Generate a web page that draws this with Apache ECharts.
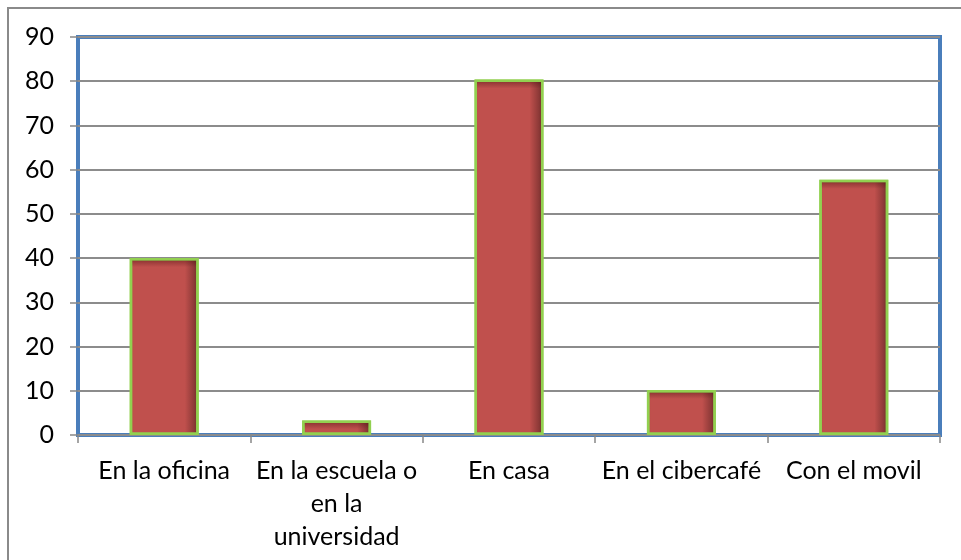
<!DOCTYPE html>
<html>
<head>
<meta charset="utf-8">
<title>Lugar de acceso</title>
<script src="https://cdn.jsdelivr.net/npm/echarts@6/dist/echarts.min.js"></script>
<style>
  html, body { margin: 0; padding: 0; background: #fff; }
  #chart { width: 961px; height: 560px; }
</style>
</head>
<body>
<div id="chart"></div>
<script>
// datos
const categories = ['En la oficina', 'En la escuela o\nen la\nuniversidad', 'En casa', 'En el cibercafé', 'Con el movil']
const values = [40, 3.3, 80.4, 10.2, 57.7]
const yTicks = { min: 0, max: 90, interval: 10 }

const chart = echarts.init(document.getElementById('chart'))

const barFill = new echarts.graphic.LinearGradient(0, 0, 1, 0, [
  { offset: 0, color: '#b54a47' },
  { offset: 0.06, color: '#c0504d' },
  { offset: 0.8, color: '#c0504d' },
  { offset: 0.93, color: '#8e3a38' },
  { offset: 1, color: '#6a2826' }
])

// sombra superior, unos 8px en cada barra
const plotH = 398
const topShade = values.map(v => {
  const h = Math.max(v / yTicks.max * plotH, 1)
  const f = Math.min(9 / h, 0.6)
  return {
    value: v,
    itemStyle: {
      color: new echarts.graphic.LinearGradient(0, 0, 0, 1, [
        { offset: 0, color: 'rgba(60,10,10,0.5)' },
        { offset: f, color: 'rgba(60,10,10,0)' },
        { offset: 1, color: 'rgba(60,10,10,0)' }
      ])
    }
  }
})

chart.setOption({
  animation: false,
  backgroundColor: '#fff',
  textStyle: { fontFamily: 'Lato, "Noto Sans", sans-serif' },
  graphic: [{
    type: 'rect',
    shape: { x: 8, y: 8, width: 970, height: 570 },
    style: { fill: 'none', stroke: '#8a8a8a', lineWidth: 2 },
    silent: true
  }],
  grid: {
    left: 78, top: 37, right: 21, bottom: 125,
    show: true,
    borderColor: '#4a7ebb',
    borderWidth: 4,
    backgroundColor: '#fff'
  },
  xAxis: {
    type: 'category',
    data: categories,
    axisLine: { show: false },
    axisTick: { show: true, length: 8, lineStyle: { color: '#888', width: 1.5 } },
    axisLabel: { color: '#000', fontSize: 25, lineHeight: 33, margin: 19, interval: 0 }
  },
  yAxis: {
    type: 'value',
    min: yTicks.min,
    max: yTicks.max,
    interval: yTicks.interval,
    axisLine: { show: false },
    axisTick: { show: true, length: 8, lineStyle: { color: '#888', width: 1.5 } },
    axisLabel: { color: '#000', fontSize: 25, margin: 24 },
    splitLine: { lineStyle: { color: '#8c8c8c', width: 2 } }
  },
  series: [{
    type: 'bar',
    data: values,
    barWidth: '40%',
    itemStyle: { color: barFill, borderColor: '#92d050', borderWidth: 2.5 }
  }, {
    type: 'bar',
    data: topShade,
    barWidth: '40%',
    barGap: '-100%',
    itemStyle: { borderColor: '#92d050', borderWidth: 2.5 },
    silent: true
  }]
})
</script>
</body>
</html>
